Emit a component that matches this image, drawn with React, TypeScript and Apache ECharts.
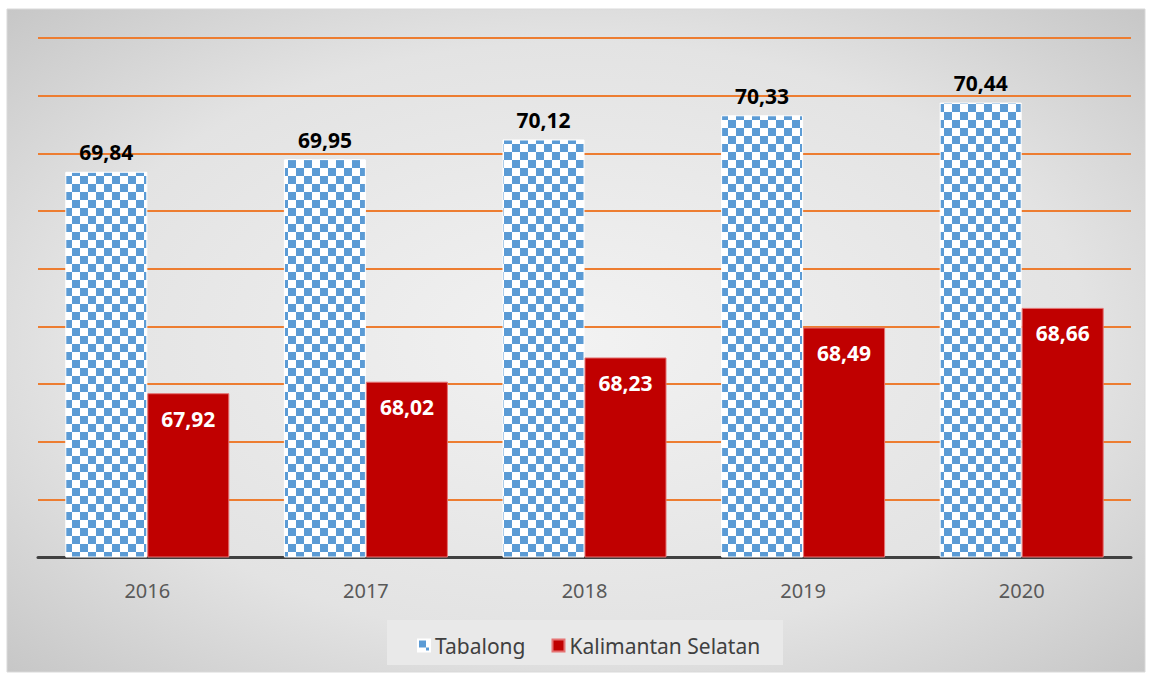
import React, { useEffect, useRef } from "react";
import * as echarts from "echarts";

const years = ["2016", "2017", "2018", "2019", "2020"];
const tabalong = [69.84, 69.95, 70.12, 70.33, 70.44];
const kalsel = [67.92, 68.02, 68.23, 68.49, 68.66];

function makeChecker(): string {
  const c = document.createElement("canvas");
  const s = 8;
  c.width = s * 2;
  c.height = s * 2;
  const ctx = c.getContext("2d")!;
  ctx.fillStyle = "#ffffff";
  ctx.fillRect(0, 0, s * 2, s * 2);
  ctx.fillStyle = "#5b9bd5";
  ctx.fillRect(0, 0, s, s);
  ctx.fillRect(s, s, s, s);
  return c.toDataURL();
}

const fmt = (v: number) => v.toFixed(2).replace(".", ",");

export default function App() {
  const ref = useRef<HTMLDivElement>(null);
  useEffect(() => {
    if (!ref.current) return;
    const chart = echarts.init(ref.current, null, { renderer: "svg" });
    const checker = makeChecker();
    chart.setOption({
      animation: false,
      textStyle: { fontFamily: "Noto Sans" },
      graphic: [
        {
          type: "rect",
          z: -10,
          silent: true,
          shape: { x: 7, y: 9, width: 1138, height: 663 },
          style: {
            fill: new echarts.graphic.RadialGradient(0.5, 0.5, 0.75, [
              { offset: 0, color: "#f2f2f2" },
              { offset: 0.6, color: "#e3e3e3" },
              { offset: 1, color: "#c2c2c2" },
            ]),
            stroke: "#d9d9d9",
            lineWidth: 1,
          },
        },
        {
          type: "rect",
          z: -5,
          silent: true,
          shape: { x: 387, y: 620, width: 396, height: 45 },
          style: { fill: "#e9e9e9" },
        },
      ],
      grid: { left: 38, right: 18, top: 38, bottom: 117 },
      legend: {
        bottom: 13,
        left: 412,
        itemWidth: 12,
        itemHeight: 12,
        itemGap: 26,
        icon: "rect",
        textStyle: { fontSize: 21, color: "#404040", fontFamily: "Noto Sans" },
        data: ["Tabalong", "Kalimantan Selatan"],
      },
      xAxis: {
        type: "category",
        data: years,
        axisTick: { show: false },
        axisLine: { lineStyle: { color: "#404040", width: 3 } },
        axisLabel: { fontSize: 20, color: "#595959", margin: 23 },
      },
      yAxis: {
        type: "value",
        min: 66.5,
        max: 71,
        interval: 0.5,
        axisLabel: { show: false },
        axisLine: { show: false },
        axisTick: { show: false },
        splitLine: { lineStyle: { color: "#ed7d31", width: 2 } },
      },
      series: [
        {
          name: "Tabalong",
          type: "bar",
          data: tabalong,
          barWidth: 82,
          barGap: "0%",
          itemStyle: {
            color: { image: checker, repeat: "repeat" },
            borderColor: "#ffffff",
            borderWidth: 1,
          },
          label: {
            show: true,
            position: "top",
            distance: 9,
            color: "#000000",
            fontSize: 21,
            fontWeight: "bold",
            formatter: (p: any) => fmt(p.value),
          },
        },
        {
          name: "Kalimantan Selatan",
          type: "bar",
          data: kalsel,
          barWidth: 82,
          itemStyle: { color: "#c00000", borderColor: "#e57373", borderWidth: 1 },
          label: {
            show: true,
            position: "insideTop",
            distance: 15,
            color: "#ffffff",
            fontSize: 21,
            fontWeight: "bold",
            formatter: (p: any) => fmt(p.value),
          },
        },
      ],
    });
    return () => chart.dispose();
  }, []);
  return (
    <div
      ref={ref}
      style={{ position: "absolute", left: 0, top: 0, width: 1149, height: 674, background: "#ffffff" }}
    />
  );
}
